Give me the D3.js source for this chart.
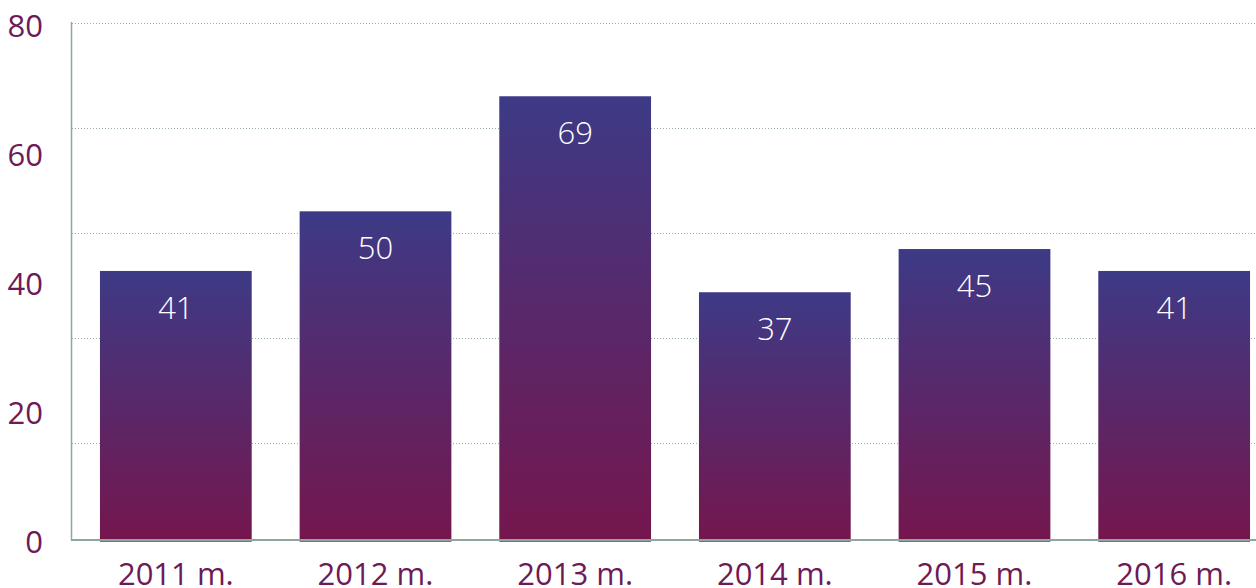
<!DOCTYPE html>
<html>
<head>
<meta charset="utf-8">
<script src="https://cdn.jsdelivr.net/npm/d3@7"></script>
<style>
  html, body { margin: 0; padding: 0; background: #fff; }
  svg { display: block; }
  text { font-family: "Open Sans", "Noto Sans", sans-serif; }
</style>
</head>
<body>
<svg id="chart" width="1256" height="588"></svg>
<script>
// ---- data ----
const categories = ["2011 m.", "2012 m.", "2013 m.", "2014 m.", "2015 m.", "2016 m."];
const valueLabels = [41, 50, 69, 37, 45, 41];          // printed on bars
const barValues = [42.0, 51.25, 69.1, 38.7, 45.4, 42.0]; // bar heights as drawn
const yTicks = [0, 20, 40, 60, 80];
const gridValues = [20, 40, 60, 80, 100];

// ---- layout ----
const W = 1256, H = 588;
const svg = d3.select("#chart");

const x = d3.scaleBand()
  .domain(categories)
  .range([76, 1274])
  .paddingInner(0.24)
  .paddingOuter(0.12);

const y = d3.scaleLinear().domain([0, 80]).range([541.7, 26]);
const yGrid = d3.scaleLinear().domain([0, 100]).range([548, 23]);

// gradient
const defs = svg.append("defs");
const grad = defs.append("linearGradient")
  .attr("id", "barGrad").attr("x1", 0).attr("y1", 0).attr("x2", 0).attr("y2", 1);
grad.append("stop").attr("offset", "0%").attr("stop-color", "#3d3a86");
grad.append("stop").attr("offset", "100%").attr("stop-color", "#75164d");

// gridlines
svg.append("g").selectAll("line").data(gridValues).join("line")
  .attr("x1", 72).attr("x2", W)
  .attr("y1", d => Math.round(yGrid(d)) + 0.5).attr("y2", d => Math.round(yGrid(d)) + 0.5)
  .attr("stroke", "#98aeaa")
  .attr("stroke-width", 1)
  .attr("stroke-dasharray", "1,2");

// bars
svg.append("g").selectAll("rect").data(barValues).join("rect")
  .attr("x", (d, i) => x(categories[i]))
  .attr("width", x.bandwidth())
  .attr("y", d => y(d))
  .attr("height", d => y(0) - y(d))
  .attr("fill", "url(#barGrad)");

// axes lines
svg.append("line")
  .attr("x1", 71.5).attr("x2", 71.5).attr("y1", 22).attr("y2", 540.5)
  .attr("stroke", "#8ea6a2").attr("stroke-width", 1.5);
svg.append("line")
  .attr("x1", 71).attr("x2", W).attr("y1", 540).attr("y2", 540)
  .attr("stroke", "#8ea6a2").attr("stroke-width", 1.8);

// y tick labels
svg.append("g").selectAll("text").data(yTicks).join("text")
  .attr("x", 43)
  .attr("y", d => y(d))
  .attr("dy", "0.35em")
  .attr("text-anchor", "end")
  .attr("font-size", 31)
  .attr("fill", "#6e1a56")
  .text(d => d);

// x labels
svg.append("g").selectAll("text").data(categories).join("text")
  .attr("x", d => x(d) + x.bandwidth() / 2)
  .attr("y", 585)
  .attr("text-anchor", "middle")
  .attr("font-size", 31)
  .attr("fill", "#6e1a56")
  .text(d => d);

// value labels
svg.append("g").selectAll("text").data(barValues).join("text")
  .attr("x", (d, i) => x(categories[i]) + x.bandwidth() / 2)
  .attr("y", d => y(d) + 48)
  .attr("text-anchor", "middle")
  .attr("font-size", 31)
  .attr("font-weight", 300)
  .attr("fill", "#ffffff")
  .text((d, i) => valueLabels[i]);
</script>
</body>
</html>
